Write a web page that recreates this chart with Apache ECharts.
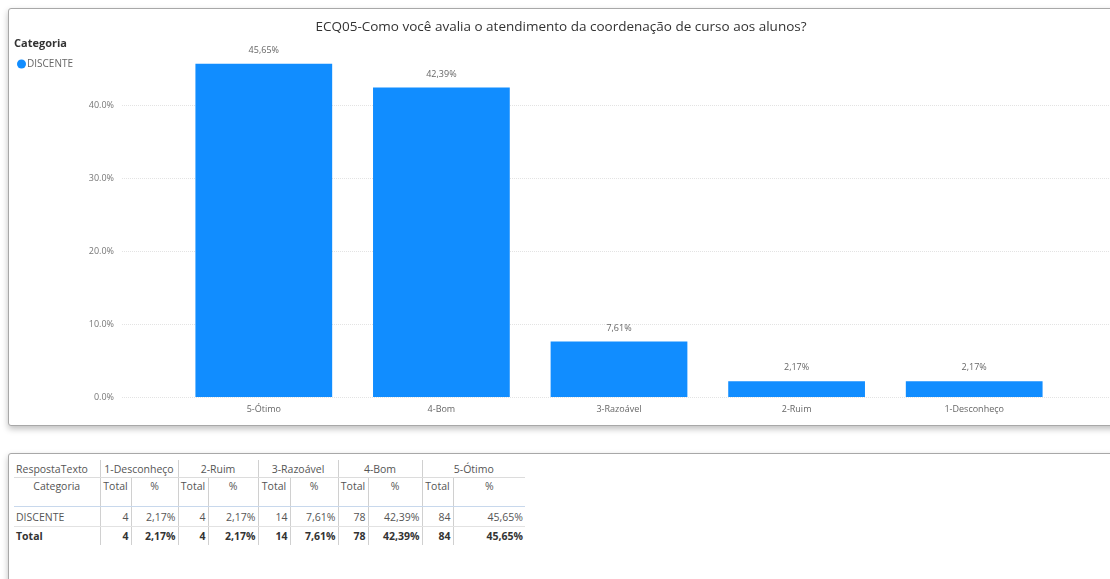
<!DOCTYPE html>
<html>
<head>
<meta charset="utf-8">
<script src="https://cdn.jsdelivr.net/npm/echarts@6/dist/echarts.min.js"></script>
<style>
  html, body { margin: 0; padding: 0; background: #fff; width: 1110px; height: 579px; overflow: hidden; font-family: 'Open Sans', sans-serif; }
  .card { position: absolute; background: #fff; border: 1px solid #a8a8a8; border-radius: 3px; box-shadow: 0 3px 6px rgba(0,0,0,0.25); }
  #chart { position: absolute; left: 0; top: 0; width: 1110px; height: 430px; }
  #tbl { position: absolute; left: 14px; top: 460px; border-collapse: collapse; font-size: 10.5px; color: #555; table-layout: fixed; }
  #tbl td { padding: 0 2px; white-space: nowrap; height: 17px; line-height: 14px; overflow: hidden; }
  #tbl .h1 td { text-align: center; border-bottom: 1px solid #dcdcdc; }
  #tbl .h2 td { text-align: center; border-bottom: 1px solid #c8d8ec; height: 27px; vertical-align: top; padding-top: 1px; }
  #tbl .r td { text-align: right; border-bottom: 1px solid #e2e2e2; height: 19px; }
  #tbl .t td { text-align: right; font-weight: bold; color: #333; height: 18px; }
  #tbl td.first { text-align: left; }
  #tbl td.vl { border-left: 1px solid #d0d0d0; }
</style>
</head>
<body>
<div class="card" style="left:8px; top:8px; width:1120px; height:416px;"></div>
<div class="card" style="left:8px; top:453px; width:1120px; height:140px;"></div>
<div id="chart"></div>
<table id="tbl"></table>
<script>
// dados
const categories = ['5-Ótimo', '4-Bom', '3-Razoável', '2-Ruim', '1-Desconheço'];
const percents = [45.65, 42.39, 7.61, 2.17, 2.17];
const totals = [84, 78, 14, 4, 4];
const seriesName = 'DISCENTE';
const titleText = 'ECQ05-Como você avalia o atendimento da coordenação de curso aos alunos?';

const fmtPct = v => v.toFixed(2).replace('.', ',') + '%';

const myChart = echarts.init(document.getElementById('chart'));
const option = {
  animation: false,
  color: ['#118DFF'],
  title: {
    text: titleText,
    left: 556,
    top: 15,
    textAlign: 'center',
    textStyle: { fontFamily: 'Open Sans', fontSize: 13.5, fontWeight: 'normal', color: '#333' },
  },
  graphic: [
    { type: 'text', left: 14, top: 38, style: { text: 'Categoria', font: 'bold 11px Open Sans', fill: '#333' } },
  ],
  legend: {
    left: 12,
    top: 54,
    icon: 'circle',
    itemWidth: 9,
    itemHeight: 9,
    itemGap: 2,
    textStyle: { fontFamily: 'Open Sans', fontSize: 10, color: '#666', padding: [0, 0, 0, -4] },
    data: [seriesName],
  },
  grid: [
    { left: 175, right: 47, top: 32, bottom: 33 },
    { left: 122, right: 0, top: 105, bottom: 33 },
  ],
  xAxis: [
    {
      type: 'category',
      gridIndex: 0,
      data: categories,
      axisLine: { show: false },
      axisTick: { show: false },
      axisLabel: { fontFamily: 'Open Sans', fontSize: 9, color: '#666', margin: 8 },
    },
    { type: 'value', gridIndex: 1, show: false },
  ],
  yAxis: [
    { type: 'value', gridIndex: 0, min: 0, max: 50, show: false },
    {
      type: 'value',
      gridIndex: 1,
      min: 0,
      max: 40,
      interval: 10,
      axisLine: { show: false },
      axisTick: { show: false },
      axisLabel: {
        fontFamily: 'Open Sans', fontSize: 9, color: '#777', margin: 8,
        formatter: v => v.toFixed(1) + '%',
      },
      splitLine: { lineStyle: { color: '#e3e3e3', type: 'dotted', width: 1 } },
    },
  ],
  series: [
    {
      name: seriesName,
      type: 'bar',
      xAxisIndex: 0,
      yAxisIndex: 0,
      barCategoryGap: '23%',
      data: percents,
      label: {
        show: true,
        position: 'top',
        distance: 9,
        fontFamily: 'Open Sans',
        fontSize: 9,
        color: '#666',
        formatter: p => fmtPct(p.value),
      },
      z: 3,
    },
  ],
};
myChart.setOption(option);

// tabela abaixo do gráfico
const order = categories.map((c, i) => i).reverse();
const widths = [86, 31, 47, 30, 50, 32, 48, 30, 54, 31, 72];
let html = '<colgroup>' + widths.map(w => '<col style="width:' + w + 'px">').join('') + '</colgroup>';
html += '<tr class="h1"><td class="first">RespostaTexto</td>' +
  order.map(i => '<td class="vl" colspan="2">' + categories[i] + '</td>').join('') + '</tr>';
html += '<tr class="h2"><td style="text-align:center">Categoria</td>' +
  order.map(() => '<td class="vl">Total</td><td class="vl">%</td>').join('') + '</tr>';
html += '<tr class="r"><td class="first">' + seriesName + '</td>' +
  order.map(i => '<td class="vl">' + totals[i] + '</td><td class="vl">' + fmtPct(percents[i]) + '</td>').join('') + '</tr>';
html += '<tr class="t"><td class="first">Total</td>' +
  order.map(i => '<td class="vl">' + totals[i] + '</td><td class="vl">' + fmtPct(percents[i]) + '</td>').join('') + '</tr>';
document.getElementById('tbl').innerHTML = html;
</script>
</body>
</html>
